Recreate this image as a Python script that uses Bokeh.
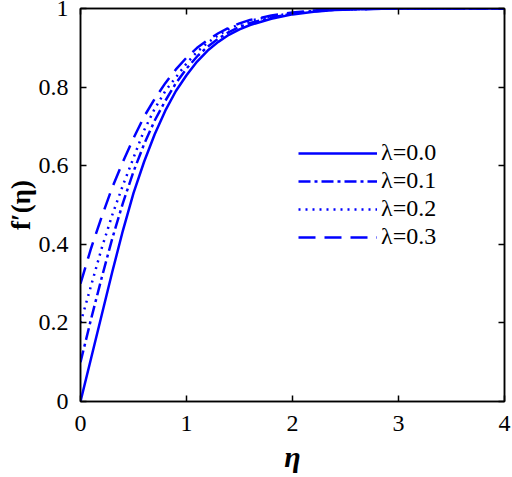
from bokeh.plotting import figure
from bokeh.models import LinearAxis, Range1d, FixedTicker, Legend, LegendItem, CustomJSTickFormatter
from bokeh.embed import file_html
from bokeh.resources import INLINE

eta = [0.0, 0.1, 0.2, 0.3, 0.4, 0.5, 0.6, 0.7, 0.8, 0.9, 1.0, 1.1, 1.2, 1.3, 1.4, 1.5, 1.6,
       1.8, 2.0, 2.2, 2.4, 2.7, 3.0, 4.0]
fp_l00 = [0.0, 0.11, 0.22, 0.33, 0.435, 0.53, 0.61, 0.68, 0.74, 0.79, 0.83, 0.865, 0.893, 0.915,
          0.933, 0.947, 0.958, 0.974, 0.985, 0.992, 0.996, 0.999, 1.0, 1.0]
fp_l01 = [0.1, 0.21, 0.315, 0.415, 0.505, 0.585, 0.655, 0.715, 0.765, 0.81, 0.847, 0.878, 0.903, 0.923,
          0.94, 0.953, 0.963, 0.977, 0.987, 0.993, 0.997, 0.999, 1.0, 1.0]
fp_l02 = [0.2, 0.295, 0.39, 0.475, 0.55, 0.62, 0.69, 0.745, 0.79, 0.825, 0.86, 0.89, 0.913, 0.932,
          0.948, 0.96, 0.969, 0.98, 0.988, 0.994, 0.997, 0.999, 1.0, 1.0]
fp_l03 = [0.3, 0.39, 0.47, 0.545, 0.61, 0.67, 0.725, 0.77, 0.81, 0.845, 0.875, 0.9, 0.92, 0.937,
          0.951, 0.962, 0.971, 0.982, 0.99, 0.995, 0.998, 0.999, 1.0, 1.0]

series_labels = ["\u03bb=0.0", "\u03bb=0.1", "\u03bb=0.2", "\u03bb=0.3"]
series_dash = ["solid", "12 4 3 4", "2 5", "17 9"]

x_ticks = [0, 1, 2, 3, 4]
x_tick_labels = ["0", "1", "2", "3", "4"]
y_ticks = [0, 0.2, 0.4, 0.6, 0.8, 1.0]
y_tick_labels = ["0", "0.2", "0.4", "0.6", "0.8", "1"]

FONT = "'Liberation Serif', 'Times New Roman', serif"
BLUE = "#0000ff"

p = figure(width=512, height=477, output_backend="svg", toolbar_location=None,
           x_range=Range1d(0, 4), y_range=Range1d(0, 1),
           min_border_left=80, min_border_right=8, min_border_top=8, min_border_bottom=76,
           x_axis_label="\u03b7", y_axis_label="f\u2032(\u03b7)")
p.grid.visible = False
p.outline_line_color = "black"
p.outline_line_width = 1.5
p.background_fill_color = "white"
p.border_fill_color = "white"

renderers = []
for ys, dash in zip([fp_l00, fp_l01, fp_l02, fp_l03], series_dash):
    r = p.line(eta, ys, line_color=BLUE, line_width=2.5, line_dash=dash)
    renderers.append(r)

def style_axis(ax, ticks, labels):
    ax.ticker = FixedTicker(ticks=ticks)
    ax.major_label_overrides = {t: l for t, l in zip(ticks, labels)}
    ax.major_tick_in = 6
    ax.major_tick_out = 0
    ax.minor_tick_in = 0
    ax.minor_tick_out = 0
    ax.axis_line_color = "black"
    ax.axis_line_width = 1.5
    ax.major_tick_line_width = 1.5
    ax.major_tick_line_color = "black"
    ax.major_label_text_font = FONT
    ax.major_label_text_font_size = "24px"
    ax.major_label_text_color = "black"
    ax.axis_label_text_font = FONT
    ax.axis_label_text_font_style = "bold"
    ax.axis_label_text_color = "black"

style_axis(p.xaxis[0], x_ticks, x_tick_labels)
style_axis(p.yaxis[0], y_ticks, y_tick_labels)
p.xaxis[0].major_label_standoff = 14
p.yaxis[0].major_label_standoff = 12
p.xaxis[0].axis_label_standoff = 6
p.yaxis[0].axis_label_standoff = 0
p.xaxis[0].axis_label_text_font_size = "30px"
p.yaxis[0].axis_label_text_font_size = "27px"
p.xaxis[0].axis_label_text_font_style = "bold italic"

top = LinearAxis()
right = LinearAxis()
for ax, ticks in ((top, x_ticks), (right, y_ticks)):
    ax.ticker = FixedTicker(ticks=ticks)
    ax.formatter = CustomJSTickFormatter(code="return ''")
    ax.major_tick_in = 6
    ax.major_tick_out = 0
    ax.minor_tick_in = 0
    ax.minor_tick_out = 0
    ax.axis_line_width = 1.5
    ax.major_tick_line_width = 1.5
    ax.major_label_standoff = 0
    ax.major_label_text_font_size = "0px"
p.add_layout(top, "above")
p.add_layout(right, "right")

legend = Legend(items=[LegendItem(label=l, renderers=[r]) for l, r in zip(series_labels, renderers)],
                location=(218, 151))
legend.border_line_color = None
legend.background_fill_alpha = 0
legend.label_text_font = FONT
legend.label_text_font_size = "24px"
legend.label_text_color = "black"
legend.glyph_width = 79
legend.glyph_height = 20
legend.label_height = 20
legend.spacing = 1
legend.padding = 0
legend.margin = 0
legend.label_standoff = 4
p.add_layout(legend)

open("out.html", "w").write(file_html(p, INLINE))
